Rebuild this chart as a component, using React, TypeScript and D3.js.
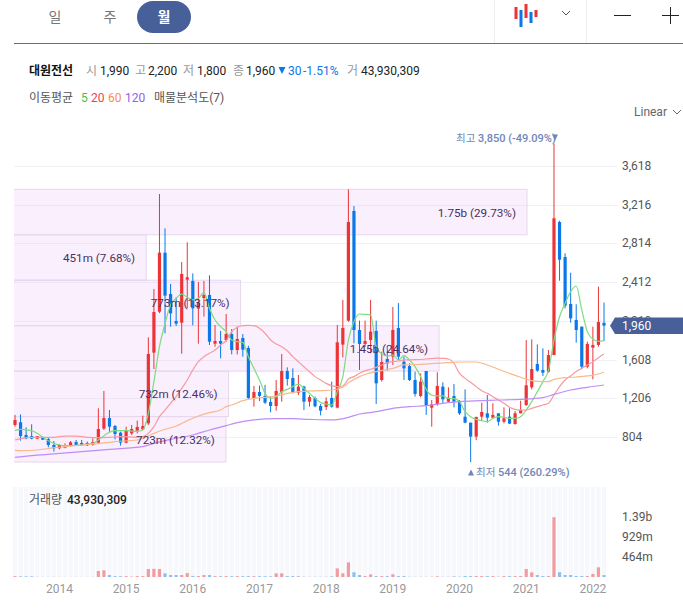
import React, { useEffect, useRef } from "react";
import * as d3 from "d3";

// monthly candles, 2013-05 .. 2022-03
const opens = [929,957,825,814,787,804,783,721,687,693,714,752,742,742,721,745,891,1001,918,849,745,842,870,884,946,1680,2105,2718,2289,2009,1991,2438,2424,2137,2247,2279,1773,1801,1811,1873,1707,1832,1728,1209,1271,1230,1168,1126,1268,1489,1417,1264,1327,1171,1209,1126,1116,1209,1109,1763,2012,3151,1915,1770,1811,1905,1396,1614,1638,1936,1586,1541,1396,1230,1489,1109,1147,1327,1171,1230,1178,1015,953,808,1015,1050,1005,1050,963,1015,939,1050,1136,1320,1562,1500,1482,1655,3036,2673,2185,2019,1950,1534,1732,1760,1990];
const highs = [1033,1039,904,936,814,808,800,762,728,738,762,773,773,756,790,1102,1282,1084,929,859,911,929,974,1026,1839,2341,3327,2971,2393,2254,2621,2825,2503,2414,2424,2483,1967,1905,2081,1925,1950,1873,1752,1334,1337,1344,1223,1396,1666,1527,1517,1448,1337,1240,1223,1147,1216,1379,1967,2227,3376,3203,2012,2012,2227,2012,1690,1732,2154,2195,1638,1569,1482,1465,1489,1188,1476,1372,1320,1355,1188,1299,953,1015,1161,1240,1154,1050,1112,1102,1074,1181,1811,1818,1766,1725,1707,3850,3050,2711,2510,2182,1950,1794,1950,2365,2200];
const lows = [911,766,780,780,780,773,697,652,676,687,704,714,714,711,714,738,877,859,780,714,738,825,842,877,929,1510,2090,1880,1950,1957,1669,2140,1964,1773,2054,1759,1742,1621,1794,1662,1662,1638,1199,1119,1178,1147,1060,1077,1171,1337,1257,1240,1084,1119,1112,1029,1084,1109,1102,1631,2000,1777,1500,1740,1673,1147,1379,1493,1552,1604,1396,1386,1223,1216,1033,911,1129,1154,1164,1112,1033,946,544,773,981,953,991,922,946,939,932,1050,1126,1299,1482,1438,1472,1655,2427,2140,1991,1783,1507,1517,1403,1742,1800];
const closes = [981,814,790,787,814,776,721,687,721,721,749,721,721,718,752,887,1001,911,835,745,870,887,908,918,1666,2102,2718,2272,2088,1981,2497,2462,2140,2199,2279,1794,1801,1773,1873,1707,1822,1711,1209,1271,1230,1161,1126,1282,1489,1406,1264,1327,1171,1219,1123,1077,1174,1119,1787,1936,3036,1915,1770,1800,1898,1361,1583,1569,1915,1638,1517,1396,1251,1379,1129,1143,1334,1195,1212,1171,1050,953,808,1012,1064,1005,1033,963,998,943,1050,1084,1341,1510,1493,1472,1655,3075,2645,2168,2036,1915,1534,1770,1760,1998,1960];

// volume in millions
const volumes = [20,15,15,15,5,4,3,4,3,3,2,3,3,2,3,140,155,45,20,18,20,10,20,22,185,190,185,85,45,45,45,90,25,22,45,45,20,18,20,18,20,18,20,18,18,18,15,85,85,20,20,18,8,5,5,5,6,15,200,85,340,110,45,22,60,20,20,20,62,20,20,6,5,5,5,6,15,5,5,15,8,22,22,22,20,20,20,8,20,20,20,22,185,108,45,22,22,1385,110,45,45,22,22,22,70,225,43.93];

const ma5 = [870,884,877,870,842,801,766,738,721,714,714,718,721,728,738,773,818,853,870,870,870,866,863,877,1050,1379,1742,1984,2175,2244,2289,2254,2227,2244,2303,2140,2019,1950,1898,1811,1794,1787,1638,1517,1396,1257,1206,1223,1275,1299,1327,1354,1309,1257,1206,1161,1147,1136,1275,1431,1811,2002,2081,2078,2071,1742,1666,1645,1655,1604,1649,1604,1534,1431,1299,1240,1230,1230,1206,1202,1171,1067,1015,987,974,963,998,1015,1008,998,998,1015,1084,1171,1275,1379,1493,1811,2053,2192,2313,2372,2123,1898,1818,1797,1804];
const ma20Months = [0,1,3,5,7,9,11,13,15,17,19,22,23,24,25,26,27,28,29,30,31,32,33,34,35,36,37,38,39,40,41,42,43,44,45,46,47,48,49,50,51,52,53,54,55,56,57,58,59,60,61,62,63,64,65,66,67,68,69,70,72,74,76,77,78,79,80,81,82,83,84,85,86,87,88,89,90,91,92,93,94,95,96,97,98,99,100,101,102,103,104,105,106];
const ma20 = [773,787,801,801,801,814,814,801,797,801,808,801,808,842,911,1015,1084,1154,1223,1309,1396,1500,1586,1638,1673,1707,1759,1804,1898,1943,1960,1964,1960,1932,1881,1811,1770,1742,1700,1638,1586,1534,1482,1431,1396,1361,1337,1327,1334,1406,1431,1465,1493,1507,1527,1552,1576,1586,1593,1604,1607,1614,1624,1621,1614,1569,1465,1413,1372,1327,1285,1257,1223,1188,1154,1112,1091,1084,1084,1102,1119,1136,1154,1240,1327,1396,1438,1483,1517,1552,1586,1628,1666];
const ma60Months = [0,1,4,7,9,12,15,18,22,23,25,27,29,31,33,35,37,38,39,41,43,45,47,49,51,53,55,57,59,60,62,65,68,70,73,76,78,80,83,85,87,89,91,93,95,96,97,99,101,103,105,106];
const ma60 = [666,662,669,693,704,721,735,756,773,790,842,884,918,974,1022,1057,1084,1119,1136,1181,1206,1216,1230,1257,1275,1282,1285,1292,1320,1368,1431,1482,1517,1552,1559,1569,1576,1583,1583,1552,1507,1465,1424,1389,1379,1379,1403,1420,1427,1438,1458,1476];
const ma120Months = [0,3,7,12,17,23,25,28,32,35,38,40,43,47,50,53,57,60,62,65,68,71,74,78,80,84,87,91,95,97,100,103,106];
const ma120 = [593,610,628,652,676,704,738,780,825,877,922,953,981,994,994,987,981,1008,1043,1067,1102,1119,1129,1160,1171,1181,1188,1195,1212,1247,1292,1320,1344];

const yTicks = [3618, 3216, 2814, 2412, 2010, 1608, 1206, 804];
const volTicks = [464, 929, 1390];
const volTickLabels = ["464m", "929m", "1.39b"];
const years = [2014, 2015, 2016, 2017, 2018, 2019, 2020, 2021, 2022];

// price profile, top row first, volume in millions
const profileValues = [1750, 451, 773, 1450, 732, 723];
const profileLabels = ["1.75b (29.73%)", "451m (7.68%)", "773m (13.17%)", "1.45b (24.64%)", "732m (12.46%)", "723m (12.32%)"];

const maSeries = [
  { months: d3.range(ma5.length), values: ma5, color: "#7ddc80" },
  { months: ma20Months, values: ma20, color: "#f89aa0" },
  { months: ma60Months, values: ma60, color: "#f8b98c" },
  { months: ma120Months, values: ma120, color: "#bf8df5" },
];

const UP = "#ec3338";
const DOWN = "#0a78e8";
const FONT = "Roboto, 'Noto Sans CJK KR', sans-serif";

function App() {
  const ref = useRef<SVGSVGElement>(null);

  useEffect(() => {
    const svg = d3.select(ref.current);
    svg.selectAll("*").remove();
    svg.style("font-family", FONT);

    const months = d3.range(opens.length);
    const x = d3.scalePoint<number>().domain(months).range([15, 604]);
    const y = d3.scaleLinear().domain([804, 3618]).range([437, 166]);
    const yVol = d3.scaleLinear().domain([0, 1390]).range([577, 517]);
    const xProfile = d3.scaleLinear().domain([0, 1750]).range([14, 527]);

    const text = (g: any, tx: number, ty: number, s: string, size: number, fill: string, anchor = "start", weight = 400) =>
      g.append("text")
        .attr("x", tx).attr("y", ty).attr("font-size", size)
        .attr("fill", fill).attr("text-anchor", anchor).attr("font-weight", weight)
        .text(s);

    svg.append("defs").append("clipPath").attr("id", "plot")
      .append("rect").attr("x", 14).attr("y", 0).attr("width", 669).attr("height", 610);

    // top toolbar
    const bar = svg.append("g");
    text(bar, 55, 22, "일", 14, "#777", "middle");
    text(bar, 110, 22, "주", 14, "#777", "middle");
    bar.append("rect").attr("x", 137).attr("y", 1).attr("width", 54).attr("height", 32).attr("rx", 16).attr("fill", "#47609a");
    text(bar, 164, 22, "월", 14, "#fff", "middle", 700);
    bar.append("line").attr("x1", 14).attr("x2", 683).attr("y1", 43.5).attr("y2", 43.5).attr("stroke", "#6b7078");
    [494.5, 586.5].forEach((d) => bar.append("line").attr("x1", d).attr("x2", d).attr("y1", 0).attr("y2", 43).attr("stroke", "#eeeeee"));
    const icon: [number, number, number, string][] = [[516, 7, 19, UP], [521, 10, 27, DOWN], [526, 4, 18, UP], [531, 12, 23, DOWN], [536, 10, 17, UP]];
    icon.forEach(([ix, a, b, c]) => bar.append("rect").attr("x", ix - 1.5).attr("y", a).attr("width", 3).attr("height", b - a).attr("fill", c));
    bar.append("path").attr("d", "M562 11l4 4 4-4").attr("fill", "none").attr("stroke", "#555");
    bar.append("path").attr("d", "M614 15.5h17M662 15.5h17M670.5 7v17").attr("fill", "none").attr("stroke", "#222").attr("stroke-width", 1);

    // header lines
    const head = svg.append("g");
    text(head, 29, 75, "대원전선", 12, "#111", "start", 700);
    ([[86, "시"], [135, "고"], [183, "저"], [233, "종"], [347, "거"]] as [number, string][]).forEach(([hx, s]) => text(head, hx, 75, s, 12, "#999"));
    ([[100, "1,990"], [148, "2,200"], [197, "1,800"], [246, "1,960"], [361, "43,930,309"]] as [number, string][]).forEach(([hx, s]) => text(head, hx, 75, s, 12, "#222"));
    head.append("path").attr("d", "M278.5 67h7l-3.5 7z").attr("fill", "#0a78e8");
    text(head, 288, 75, "30", 12, "#0a78e8");
    text(head, 303, 75, "-1.51%", 12, "#0a78e8");
    text(head, 29, 102, "이동평균", 12, "#555");
    ([[81, "5", "#46c046"], [91, "20", "#f04050"], [108, "60", "#f59050"], [125, "120", "#9060f0"]] as [number, string, string][]).forEach(([hx, s, c]) => text(head, hx, 102, s, 12, c));
    text(head, 154, 102, "매물분석도(7)", 12, "#555");
    text(head, 634, 116, "Linear", 12, "#666");
    head.append("path").attr("d", "M673 110l4 4 4-4").attr("fill", "none").attr("stroke", "#666");

    // grid
    const grid = svg.append("g");
    grid.selectAll("line").data(yTicks).enter().append("line")
      .attr("x1", 14).attr("x2", 617)
      .attr("y1", (d) => Math.round(y(d)) + 0.5).attr("y2", (d) => Math.round(y(d)) + 0.5)
      .attr("stroke", "#f0f1f6");

    // price profile rows, left edge cut by the plot clip
    const bandY = d3.scaleBand<number>().domain(d3.range(profileValues.length)).range([y(3376), y(544)]);
    svg.append("g").attr("clip-path", "url(#plot)").selectAll("rect").data(profileValues).enter().append("rect")
      .attr("x", 4)
      .attr("y", (d, i) => bandY(i)!)
      .attr("width", (d) => xProfile(d) - 4)
      .attr("height", bandY.bandwidth())
      .attr("fill", "rgba(232,190,248,0.25)")
      .attr("stroke", "#e6d6ee");

    // candles
    const candles = svg.append("g");
    candles.selectAll("line").data(months).enter().append("line")
      .attr("x1", (i) => x(i)!).attr("x2", (i) => x(i)!)
      .attr("y1", (i) => y(highs[i])).attr("y2", (i) => y(lows[i]))
      .attr("stroke", (i) => (closes[i] >= opens[i] ? UP : DOWN));
    candles.selectAll("rect").data(months).enter().append("rect")
      .attr("x", (i) => x(i)! - 1.6)
      .attr("width", 3.2)
      .attr("y", (i) => y(Math.max(opens[i], closes[i])))
      .attr("height", (i) => Math.max(1, Math.abs(y(opens[i]) - y(closes[i]))))
      .attr("fill", (i) => (closes[i] >= opens[i] ? UP : DOWN));

    // moving averages
    maSeries.forEach((s) => {
      const line = d3.line<number>()
        .x((m) => x(m)!)
        .y((m, i) => y(s.values[i]))
        .curve(d3.curveMonotoneX);
      svg.append("path")
        .attr("d", line(s.months))
        .attr("fill", "none")
        .attr("stroke", s.color)
        .attr("stroke-width", 1.2);
    });

    // profile labels above the candles
    const labels = svg.append("g");
    profileLabels.forEach((s, i) => {
      text(labels, xProfile(profileValues[i]) - 11, bandY(i)! + bandY.bandwidth() / 2 + 4.5, s, 11.7, "#4a3060", "end");
    });

    // high / low notes
    text(labels, 456, 141.5, "최고", 10.5, "#6f86b8");
    text(labels, 478, 141.5, "3,850 (-49.09%)", 11, "#6f86b8", "start", 500);
    labels.append("path").attr("d", "M552 134.5h6l-3 6z").attr("fill", "#6f86b8");
    labels.append("path").attr("d", "M468 475.5h6l-3-6z").attr("fill", "#6f86b8");
    text(labels, 476, 476, "최저", 10.5, "#6f86b8");
    text(labels, 498, 476, "544 (260.29%)", 11, "#6f86b8", "start", 500);

    // y axis labels + current price
    const axis = svg.append("g");
    yTicks.forEach((d) => text(axis, 622, y(d) + 4, d3.format(",")(d), 12, "#555"));
    axis.append("path").attr("d", "M610 325.7L615 317.5H683V334H615Z").attr("fill", "#47609a");
    text(axis, 622, 330, "1,960", 12, "#fff");

    // volume panel
    const vol = svg.append("g");
    const bw = x.step();
    vol.selectAll("rect.bg").data(months).enter().append("rect")
      .attr("class", "bg")
      .attr("x", (i) => x(i)! - bw * 0.4)
      .attr("width", bw * 0.8)
      .attr("y", 487).attr("height", 90)
      .attr("fill", "#f6f8fc");
    vol.selectAll("rect.v").data(months).enter().append("rect")
      .attr("class", "v")
      .attr("x", (i) => x(i)! - 1.6)
      .attr("width", 3.2)
      .attr("y", (i) => yVol(volumes[i]))
      .attr("height", (i) => 577 - yVol(volumes[i]))
      .attr("fill", (i) => (closes[i] >= opens[i] ? "#f29ca0" : "#8cc0f2"));
    text(vol, 29, 504, "거래량", 12, "#555");
    text(vol, 67, 504, "43,930,309", 12, "#222", "start", 500);
    volTicks.forEach((d, i) => text(vol, 622, yVol(d) + 4, volTickLabels[i], 12, "#555"));
    years.forEach((d, i) => text(vol, x(8 + i * 12)!, 593, String(d), 12, "#999", "middle"));
  });

  return <svg ref={ref} width={683} height={610} style={{ position: "absolute", left: 0, top: 0 }} />;
}

export default App;
